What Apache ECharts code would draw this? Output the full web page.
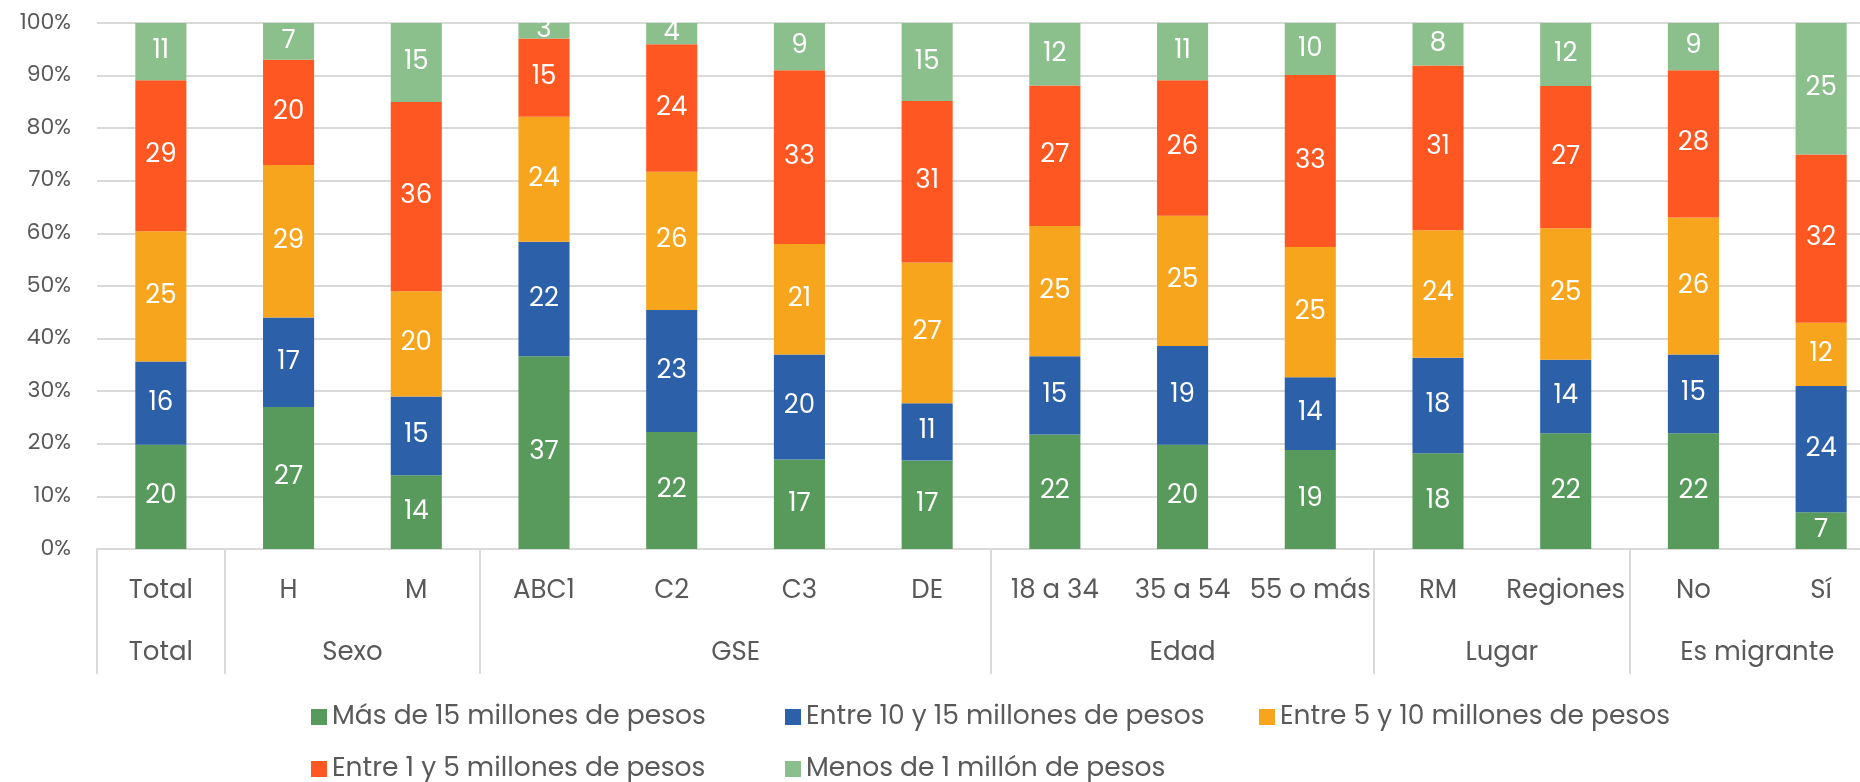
<!DOCTYPE html>
<html>
<head>
<meta charset="utf-8">
<script src="https://cdn.jsdelivr.net/npm/echarts@6/dist/echarts.min.js"></script>
<style>
  html, body { margin: 0; padding: 0; background: #fff; }
  #chart { width: 1860px; height: 782px; }
</style>
</head>
<body>
<div id="chart"></div>
<script>
var categories = ["Total", "H", "M", "ABC1", "C2", "C3", "DE", "18 a 34", "35 a 54", "55 o más", "RM", "Regiones", "No", "Sí"];
var groupNames = ["Total", "Sexo", "GSE", "Edad", "Lugar", "Es migrante"];
var groupSizes = [1, 2, 4, 3, 2, 2];

var seriesNames = [
  "Más de 15 millones de pesos",
  "Entre 10 y 15 millones de pesos",
  "Entre 5 y 10 millones de pesos",
  "Entre 1 y 5 millones de pesos",
  "Menos de 1 millón de pesos"
];
var mas15 = [20, 27, 14, 37, 22, 17, 17, 22, 20, 19, 18, 22, 22, 7];
var entre10y15 = [16, 17, 15, 22, 23, 20, 11, 15, 19, 14, 18, 14, 15, 24];
var entre5y10 = [25, 29, 20, 24, 26, 21, 27, 25, 25, 25, 24, 25, 26, 12];
var entre1y5 = [29, 20, 36, 15, 24, 33, 31, 27, 26, 33, 31, 27, 28, 32];
var menos1 = [11, 7, 15, 3, 4, 9, 15, 12, 11, 10, 8, 12, 9, 25];
var yTicks = [0, 10, 20, 30, 40, 50, 60, 70, 80, 90, 100];

var colors = ["#589a5b", "#2c60a9", "#f8a51e", "#ff5722", "#8bbf8c"];
var font = "Poppins, 'Noto Sans', sans-serif";
var textGray = "#595959";
var lineGray = "#d9d9d9";

var raw = [mas15, entre10y15, entre5y10, entre1y5, menos1];

// 100% stacked: each column is scaled to its own total
var totals = categories.map(function (c, i) {
  return raw.reduce(function (s, arr) { return s + arr[i]; }, 0);
});

// second axis: half-category points, group names at group centres, ticks at group edges
var groupAxisData = [];
var groupTickIdx = [];
var pos = 0;
for (var i = 0; i <= categories.length * 2; i++) groupAxisData.push("");
groupSizes.forEach(function (n, g) {
  groupTickIdx.push(pos * 2);
  groupAxisData[pos * 2 + n] = groupNames[g];
  pos += n;
});

var myChart = echarts.init(document.getElementById("chart"));

var option = {
  animation: false,
  color: colors,
  textStyle: { fontFamily: font },
  grid: {
    left: 97,
    right: -25,
    top: 23,
    bottom: 233,
    outerBoundsMode: "none"
  },
  legend: {
    left: 306,
    top: 696,
    width: 1420,
    itemWidth: 16,
    itemHeight: 16,
    itemGap: 20,
    icon: "rect",
    data: seriesNames,
    textStyle: {
      fontFamily: font,
      fontSize: 26.5,
      color: textGray,
      width: 433,
      lineHeight: 32
    }
  },
  xAxis: [
    {
      type: "category",
      data: categories,
      axisLine: { lineStyle: { color: lineGray, width: 2 } },
      axisTick: { show: false },
      axisLabel: {
        interval: 0,
        margin: 29,
        fontSize: 26,
        color: textGray,
        fontFamily: font
      }
    },
    {
      type: "category",
      position: "bottom",
      boundaryGap: false,
      data: groupAxisData,
      axisLine: { show: false },
      axisTick: {
        show: true,
        length: 125,
        interval: function (idx) { return groupTickIdx.indexOf(idx) >= 0; },
        lineStyle: { color: lineGray, width: 2 }
      },
      axisLabel: {
        interval: 0,
        margin: 91,
        fontSize: 26,
        color: textGray,
        fontFamily: font
      }
    }
  ],
  yAxis: {
    type: "value",
    min: yTicks[0],
    max: yTicks[yTicks.length - 1],
    interval: yTicks[1] - yTicks[0],
    axisLine: { show: false },
    axisTick: { show: false },
    axisLabel: {
      formatter: "{value}%",
      margin: 26,
      fontSize: 22,
      color: textGray,
      fontFamily: font
    },
    splitLine: { lineStyle: { color: lineGray, width: 2 } }
  },
  series: seriesNames.map(function (name, s) {
    return {
      name: name,
      type: "bar",
      stack: "total",
      barWidth: "40%",
      data: raw[s].map(function (v, i) { return v / totals[i] * 100; }),
      label: {
        show: true,
        position: "inside",
        color: "#fff",
        fontSize: 26,
        fontFamily: font,
        formatter: function (p) { return raw[p.seriesIndex][p.dataIndex]; }
      }
    };
  })
};

myChart.setOption(option);
</script>
</body>
</html>
